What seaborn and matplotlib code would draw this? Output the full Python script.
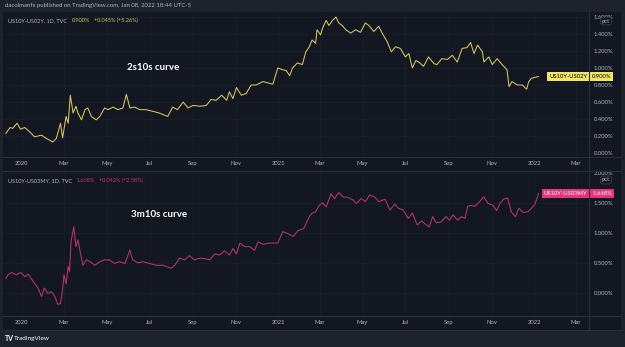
import matplotlib
matplotlib.use("Agg")
import matplotlib.pyplot as plt
import matplotlib.transforms as mtransforms
from matplotlib.lines import Line2D
from matplotlib.patches import Rectangle
from matplotlib.text import Annotation
from matplotlib.ticker import FuncFormatter
import seaborn as sns
import pandas as pd

# ---------------- data ----------------
dates_2s10s = ['2019-12-09','2019-12-15','2019-12-19','2019-12-25','2019-12-30','2020-01-05','2020-01-12','2020-01-19','2020-01-29','2020-02-05',
               '2020-02-14','2020-02-19','2020-02-25','2020-02-28','2020-03-04','2020-03-07','2020-03-10','2020-03-14','2020-03-18','2020-03-21',
               '2020-03-26','2020-03-31','2020-04-04','2020-04-09','2020-04-16','2020-04-21','2020-04-28','2020-05-03','2020-05-10','2020-05-17',
               '2020-05-24','2020-05-29','2020-06-03','2020-06-10','2020-06-17','2020-06-26','2020-07-06','2020-07-15','2020-07-27','2020-08-03',
               '2020-08-10','2020-08-18','2020-08-25','2020-09-01','2020-09-11','2020-09-20','2020-09-27','2020-10-04','2020-10-12','2020-10-19',
               '2020-10-23','2020-10-28','2020-11-02','2020-11-09','2020-11-16','2020-11-23','2020-11-30','2020-12-10','2020-12-19','2020-12-24',
               '2020-12-31','2021-01-07','2021-01-12','2021-01-17','2021-01-21','2021-01-28','2021-02-04','2021-02-09','2021-02-14','2021-02-18',
               '2021-02-23','2021-02-25','2021-03-02','2021-03-05','2021-03-10','2021-03-14','2021-03-19','2021-03-24','2021-03-28','2021-04-02',
               '2021-04-07','2021-04-14','2021-04-21','2021-04-28','2021-05-05','2021-05-10','2021-05-17','2021-05-24','2021-05-29','2021-06-05',
               '2021-06-11','2021-06-17','2021-06-24','2021-07-01','2021-07-06','2021-07-11','2021-07-16','2021-07-20','2021-07-27','2021-08-03',
               '2021-08-11','2021-08-15','2021-08-22','2021-08-30','2021-09-06','2021-09-13','2021-09-20','2021-09-27','2021-10-02','2021-10-07',
               '2021-10-12','2021-10-19','2021-10-21','2021-10-28','2021-11-02','2021-11-09','2021-11-16','2021-11-23','2021-11-26','2021-11-30',
               '2021-12-08','2021-12-15','2021-12-21','2021-12-24','2021-12-28','2022-01-07']
values_2s10s = [0.23,0.30,0.29,0.35,0.28,0.30,0.25,0.19,0.21,0.17,
                0.13,0.17,0.35,0.18,0.43,0.35,0.68,0.47,0.55,0.47,
                0.39,0.51,0.53,0.43,0.39,0.43,0.53,0.51,0.54,0.51,
                0.53,0.69,0.53,0.54,0.51,0.51,0.49,0.47,0.43,0.54,
                0.51,0.60,0.53,0.56,0.55,0.56,0.63,0.62,0.68,0.62,
                0.72,0.64,0.77,0.68,0.70,0.80,0.80,0.84,0.82,0.81,
                1.00,0.98,0.97,0.91,1.00,1.06,1.04,1.19,1.25,1.33,
                1.29,1.45,1.39,1.47,1.56,1.50,1.56,1.60,1.53,1.50,
                1.45,1.41,1.45,1.42,1.53,1.50,1.43,1.49,1.41,1.31,
                1.19,1.25,1.23,1.13,1.17,1.00,1.09,1.07,1.02,1.13,
                1.05,1.04,1.11,1.10,1.15,1.07,1.23,1.24,1.30,1.17,
                1.27,1.19,1.07,1.13,1.04,1.11,1.04,0.98,0.78,0.84,
                0.80,0.80,0.75,0.84,0.88,0.90]

dates_3m10s = ['2019-12-09','2019-12-12','2019-12-17','2019-12-24','2019-12-30','2020-01-05','2020-01-10','2020-01-14','2020-01-19','2020-01-24',
               '2020-01-29','2020-02-02','2020-02-07','2020-02-12','2020-02-17','2020-02-21','2020-02-25','2020-02-28','2020-03-01','2020-03-04',
               '2020-03-07','2020-03-09','2020-03-11','2020-03-15','2020-03-18','2020-03-21','2020-03-24','2020-03-28','2020-04-02','2020-04-07',
               '2020-04-14','2020-04-21','2020-04-28','2020-05-05','2020-05-12','2020-05-19','2020-05-27','2020-06-03','2020-06-07','2020-06-15',
               '2020-06-22','2020-07-01','2020-07-11','2020-07-20','2020-08-01','2020-08-06','2020-08-13','2020-08-20','2020-08-27','2020-09-03',
               '2020-09-11','2020-09-18','2020-09-25','2020-10-02','2020-10-09','2020-10-16','2020-10-23','2020-10-28','2020-11-02','2020-11-07',
               '2020-11-14','2020-11-21','2020-11-28','2020-12-03','2020-12-10','2020-12-19','2020-12-31','2021-01-07','2021-01-14','2021-01-22',
               '2021-01-29','2021-02-06','2021-02-14','2021-02-18','2021-02-23','2021-02-28','2021-03-05','2021-03-10','2021-03-17','2021-03-22',
               '2021-03-28','2021-04-03','2021-04-10','2021-04-17','2021-04-22','2021-04-29','2021-05-05','2021-05-11','2021-05-18','2021-05-24',
               '2021-06-02','2021-06-09','2021-06-16','2021-06-21','2021-06-28','2021-07-05','2021-07-11','2021-07-18','2021-07-24','2021-07-31',
               '2021-08-04','2021-08-09','2021-08-14','2021-08-21','2021-08-28','2021-09-02','2021-09-07','2021-09-14','2021-09-19','2021-09-24',
               '2021-09-28','2021-10-03','2021-10-08','2021-10-15','2021-10-21','2021-10-27','2021-11-03','2021-11-08','2021-11-13','2021-11-18',
               '2021-11-24','2021-11-29','2021-12-05','2021-12-10','2021-12-16','2021-12-23','2021-12-28','2022-01-02','2022-01-07']
values_3m10s = [0.25,0.31,0.35,0.31,0.35,0.28,0.32,0.25,0.17,0.09,
                -0.05,0.09,0.00,0.03,-0.05,-0.18,-0.17,0.06,0.31,0.16,
                0.45,0.36,0.86,1.11,0.78,0.89,0.70,0.47,0.56,0.53,
                0.47,0.53,0.56,0.56,0.50,0.53,0.50,0.72,0.56,0.51,
                0.53,0.50,0.47,0.47,0.42,0.47,0.59,0.56,0.63,0.56,
                0.59,0.58,0.56,0.66,0.64,0.71,0.64,0.75,0.66,0.84,
                0.78,0.78,0.72,0.86,0.82,0.84,0.84,1.03,1.00,0.95,
                1.05,1.08,1.28,1.34,1.36,1.47,1.51,1.44,1.66,1.58,
                1.68,1.61,1.60,1.56,1.50,1.58,1.53,1.64,1.61,1.53,
                1.57,1.39,1.49,1.42,1.39,1.25,1.34,1.14,1.21,1.14,
                1.11,1.28,1.18,1.19,1.28,1.22,1.31,1.22,1.28,1.25,
                1.45,1.47,1.45,1.53,1.61,1.50,1.47,1.38,1.50,1.57,
                1.59,1.36,1.28,1.42,1.35,1.36,1.42,1.49,1.668]

tick_dates = ['2020-01-01','2020-03-01','2020-05-01','2020-07-01','2020-09-01','2020-11-01','2021-01-01',
              '2021-03-01','2021-05-01','2021-07-01','2021-09-01','2021-11-01','2022-01-01','2022-03-01']
tick_labels = ['2020','Mar','May','Jul','Sep','Nov','2021','Mar','May','Jul','Sep','Nov','2022','Mar']
yticks_2s10s = [0.0, 0.2, 0.4, 0.6, 0.8, 1.0, 1.2, 1.4, 1.6]
yticks_3m10s = [0.0, 0.5, 1.0, 1.5, 2.0]

header_text = "dacolmanfx published on TradingView.com, Jan 08, 2022 18:44 UTC-5"
legend_2s10s = ("US10Y-US02Y, 1D, TVC", "0.900%", "+0.045% (+5.26%)")
legend_3m10s = ("US10Y-US03MY, 1D, TVC", "1.668%", "+0.042% (+2.58%)")
title_2s10s = "2s10s curve"
title_3m10s = "3m10s curve"
last_2s10s = "0.900%"
last_3m10s = "1.668%"

# ---------------- style ----------------
sns.set_theme(style="dark")
plt.rcParams['font.family'] = ['Lato', 'DejaVu Sans']

W, H = 625, 347
BG = '#131722'
FRAME = '#1e222d'
BORDER = '#2a2e39'
TXT = '#b2b5be'
YEL = '#d4ca5f'
YEL_BOX = '#f2e66a'
PINK = '#b8366c'
PINK_BOX = '#e5357a'
PINK_TXT = '#d2336e'

fig = plt.figure(figsize=(W / 100, H / 100), dpi=100, facecolor=FRAME)


def box(x0, y0, x1, y1):
    return [x0 / W, 1 - y1 / H, (x1 - x0) / W, (y1 - y0) / H]


def fx(x):
    return x / W


def fy(y):
    return 1 - y / H


fig.patches.append(Rectangle((fx(3), fy(330)), (621 - 3) / W, (330 - 12) / H,
                             transform=fig.transFigure, facecolor=BG, edgecolor='none', zorder=-5))

df1 = pd.DataFrame({'date': pd.to_datetime(dates_2s10s), 'value': values_2s10s})
df2 = pd.DataFrame({'date': pd.to_datetime(dates_3m10s), 'value': values_3m10s})

ax1 = fig.add_axes(box(3, 13, 589, 157))
ax2 = fig.add_axes(box(3, 171, 589, 316))

xmin, xmax = pd.Timestamp('2019-12-05'), pd.Timestamp('2022-03-20')

for ax, df, col, yt, ylim in [(ax1, df1, YEL, yticks_2s10s, (-0.047, 1.647)),
                              (ax2, df2, PINK, yticks_3m10s, (-0.375, 2.04))]:
    ax.set_facecolor(BG)
    sns.lineplot(data=df, x='date', y='value', ax=ax, color=col, linewidth=0.75)
    ax.set_xlim(xmin, xmax)
    ax.set_ylim(*ylim)
    ax.set_xticks(pd.to_datetime(tick_dates))
    ax.set_xticklabels(tick_labels)
    ax.set_yticks(yt)
    ax.yaxis.set_major_formatter(FuncFormatter(lambda v, p: f"{v:.3f}%"))
    ax.yaxis.tick_right()
    ax.tick_params(axis='x', length=0, pad=3.0, labelsize=4.2, colors=TXT)
    ax.tick_params(axis='y', length=0, pad=3.5, labelsize=4.2, colors=TXT)
    ax.set_xlabel('')
    ax.set_ylabel('')
    ax.grid(True, color='#1a1e2b', linewidth=0.6)
    for s in ax.spines.values():
        s.set_visible(False)

# frame lines
for y in (157, 171, 316, 330):
    fig.add_artist(Line2D([fx(3), fx(621)], [fy(y), fy(y)], color=BORDER, lw=0.8, transform=fig.transFigure))
fig.add_artist(Line2D([fx(589), fx(589)], [fy(12), fy(330)], color=BORDER, lw=0.8, transform=fig.transFigure))

# header
fig.text(fx(5), fy(6), header_text, fontsize=4.3, color=TXT, va='center', ha='left')


def legend_row(y, parts, colors):
    t = fig.text(fx(8), fy(y), parts[0], fontsize=4.0, color=colors[0], va='center', ha='left')
    for p, c in zip(parts[1:], colors[1:]):
        t = fig.add_artist(Annotation(p, xy=(1, 0.5), xycoords=t, xytext=(3.2, 0),
                                      textcoords='offset points', fontsize=4.0, color=c,
                                      va='center', ha='left'))


legend_row(20.5, legend_2s10s, (TXT, YEL, YEL))
legend_row(180.5, legend_3m10s, (TXT, PINK_TXT, PINK_TXT))

# panel titles
ax1.text(0.257, 0.62, title_2s10s, transform=ax1.transAxes, fontsize=7, fontweight='bold',
         color='white', ha='center', va='center')
ax2.text(0.266, 0.70, title_3m10s, transform=ax2.transAxes, fontsize=7, fontweight='bold',
         color='white', ha='center', va='center')

# last value labels
for ax, name, val, yv, bc, tc in [(ax1, 'US10Y-US02Y', last_2s10s, values_2s10s[-1], YEL_BOX, 'black'),
                                  (ax2, 'US10Y-US03MY', last_3m10s, values_3m10s[-1], PINK_BOX, 'white')]:
    tr = mtransforms.blended_transform_factory(ax.transAxes, ax.transData)
    ax.annotate(name, xy=(1, yv), xycoords=tr, xytext=(-1.3, 0), textcoords='offset points',
                ha='right', va='center', fontsize=4.2, color=tc, annotation_clip=False,
                bbox=dict(boxstyle='square,pad=0.3', fc=bc, ec='none'))
    ax.annotate(val, xy=(1, yv), xycoords=tr, xytext=(2.2, 0), textcoords='offset points',
                ha='left', va='center', fontsize=4.2, color=tc, annotation_clip=False,
                bbox=dict(boxstyle='square,pad=0.3', fc=bc, ec='none'))

# pct boxes
for yy in (21, 180):
    fig.text(fx(606), fy(yy), 'pct', fontsize=4.2, color=TXT, ha='center', va='center',
             bbox=dict(boxstyle='round,pad=0.25,rounding_size=0.4', fc=BG, ec='#434651', lw=0.5))

# footer
fig.text(fx(5), fy(338.5), 'TV', fontsize=5, fontweight='bold', color='white', ha='left', va='center')
fig.text(fx(14), fy(338.5), 'TradingView', fontsize=4.6, color='white', ha='left', va='center')

fig.savefig('out.png', dpi=100, facecolor=FRAME)
